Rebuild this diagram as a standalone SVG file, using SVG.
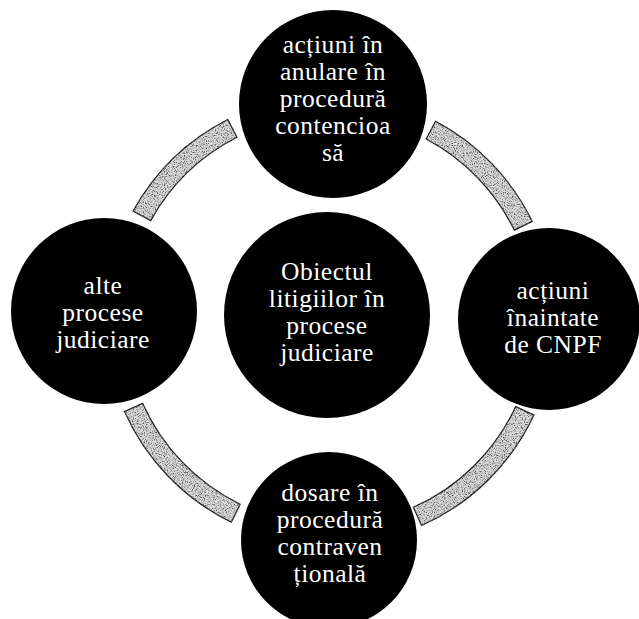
<svg xmlns="http://www.w3.org/2000/svg" width="639" height="619" viewBox="0 0 639 619">
  <defs>
    <filter id="grain" x="-5%" y="-5%" width="110%" height="110%">
      <feTurbulence type="fractalNoise" baseFrequency="0.9" numOctaves="2" seed="7" result="noise"/>
      <feColorMatrix in="noise" type="matrix" values="0 0 0 0 0.1  0 0 0 0 0.1  0 0 0 0 0.1  3.4 0 0 0 -1.5" result="dark"/>
      <feComposite in="dark" in2="SourceGraphic" operator="in" result="dots"/>
      <feMerge><feMergeNode in="SourceGraphic"/><feMergeNode in="dots"/></feMerge>
    </filter>
  </defs>
  <style>
    .band { fill: #dadada; stroke: #111; stroke-width: 1.2; filter: url(#grain); }
    .node { fill: #000; }
    .lbl { fill: #fff; font-family: "Liberation Serif", "DejaVu Serif", serif; font-size: 25.5px; letter-spacing: 0.5px; text-anchor: middle; }
  </style>
  <rect width="639" height="619" fill="#fff"/>
  <g id="connectors">
    <path class="band" d="M133.2,210.9 A225,225 0 0 1 227.8,119.5 L236.9,137.3 A205,205 0 0 0 150.7,220.6 Z"/>
    <path class="band" d="M435.6,121.3 A225,225 0 0 1 532.2,221.4 L514.3,230.1 A205,205 0 0 0 426.2,139.0 Z"/>
    <path class="band" d="M533.9,415.1 A225,225 0 0 1 421.5,525.5 L413.4,507.3 A205,205 0 0 0 515.8,406.6 Z"/>
    <path class="band" d="M231.4,522.2 A225,225 0 0 1 124.5,411.5 L142.7,403.4 A205,205 0 0 0 240.1,504.3 Z"/>
  </g>
  <g id="node-top">
    <circle class="node" cx="333" cy="104" r="94"/>
    <text class="lbl" x="333" y="53">acțiuni în</text>
    <text class="lbl" x="333" y="80">anulare în</text>
    <text class="lbl" x="333" y="107">procedură</text>
    <text class="lbl" x="333" y="134">contencioa</text>
    <text class="lbl" x="333" y="161">să</text>
  </g>
  <g id="node-left">
    <circle class="node" cx="104" cy="311" r="93"/>
    <text class="lbl" x="103" y="294">alte</text>
    <text class="lbl" x="103" y="321">procese</text>
    <text class="lbl" x="103" y="348">judiciare</text>
  </g>
  <g id="node-center">
    <circle class="node" cx="327" cy="315" r="103"/>
    <text class="lbl" x="327" y="280">Obiectul</text>
    <text class="lbl" x="327" y="307">litigiilor în</text>
    <text class="lbl" x="327" y="334">procese</text>
    <text class="lbl" x="327" y="361">judiciare</text>
  </g>
  <g id="node-right">
    <circle class="node" cx="549" cy="319" r="91"/>
    <text class="lbl" x="553" y="299">acțiuni</text>
    <text class="lbl" x="553" y="326">înaintate</text>
    <text class="lbl" x="553" y="353">de CNPF</text>
  </g>
  <g id="node-bottom">
    <circle class="node" cx="329" cy="540" r="88"/>
    <text class="lbl" x="330" y="501">dosare în</text>
    <text class="lbl" x="330" y="528">procedură</text>
    <text class="lbl" x="330" y="555">contraven</text>
    <text class="lbl" x="330" y="582">țională</text>
  </g>
</svg>
